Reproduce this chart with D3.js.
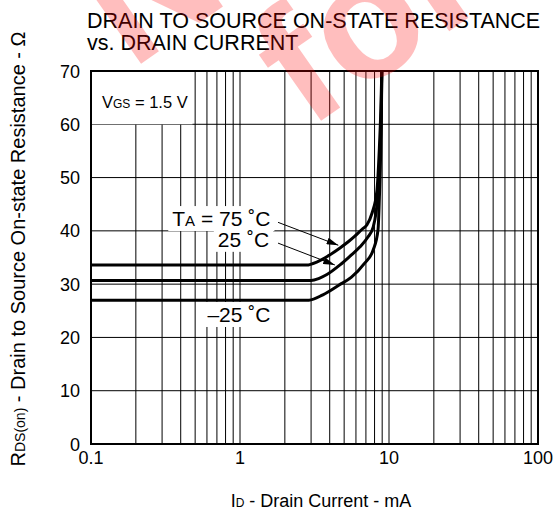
<!DOCTYPE html>
<html>
<head>
<meta charset="utf-8">
<script src="https://cdn.jsdelivr.net/npm/d3@7"></script>
<style>
  body { margin: 0; background: #fff; }
  text { font-family: Arial, "Liberation Sans", sans-serif; fill: #000; }
</style>
</head>
<body>
<div id="chart"></div>
<script>
const xTicks = [0.1, 1, 10, 100];
const yTicks = [0, 10, 20, 30, 40, 50, 60, 70];

// drain current (mA) / resistance (ohm)
const current75 = [0.1, 2.8, 3.3, 3.9, 4.69, 5.3, 5.9, 6.6, 7.1, 7.69, 8.31, 8.6, 8.82, 8.95];
const rds75 = [33.6, 33.6, 34.2, 35.3, 36.8, 37.9, 39.0, 40.3, 41.1, 43.3, 47.7, 55, 63, 70];
const current25 = [0.1, 3.0, 3.4, 3.83, 4.69, 5.5, 6.39, 7.2, 7.83, 8.44, 8.71, 8.88, 8.95];
const rds25 = [30.7, 30.7, 31.1, 31.8, 33.6, 35.3, 37.0, 38.8, 40.7, 47.1, 55, 63, 70];
const currentM25 = [0.1, 2.9, 3.6, 4.6, 5.6, 6.8, 7.83, 8.44, 8.62, 8.8, 8.9, 8.95];
const rdsM25 = [27.0, 27.0, 28.0, 29.8, 31.3, 33.8, 36.4, 40.2, 46.3, 55, 63, 70];

const width = 557, height = 512;
const x = d3.scaleLog().domain([0.1, 100]).range([91, 538]);
const y = d3.scaleLinear().domain([0, 70]).range([444, 71]);

const svg = d3.select('#chart').append('svg')
  .attr('width', width)
  .attr('height', height);

// grid
svg.append('g').selectAll('line')
  .data(x.ticks())
  .enter().append('line')
  .attr('x1', d => x(d)).attr('x2', d => x(d))
  .attr('y1', y(0)).attr('y2', y(70))
  .attr('stroke', '#000').attr('stroke-width', 1);

svg.append('g').selectAll('line')
  .data(yTicks)
  .enter().append('line')
  .attr('x1', x(0.1)).attr('x2', x(100))
  .attr('y1', d => y(d)).attr('y2', d => y(d))
  .attr('stroke', '#000').attr('stroke-width', 1);

// tick labels
svg.append('g').selectAll('text')
  .data(yTicks)
  .enter().append('text')
  .attr('x', x(0.1) - 11)
  .attr('y', d => y(d) + 6.5)
  .attr('text-anchor', 'end')
  .style('font-size', '18px')
  .text(d => d);

svg.append('g').selectAll('text')
  .data(xTicks)
  .enter().append('text')
  .attr('x', d => x(d))
  .attr('y', y(0) + 20)
  .attr('text-anchor', 'middle')
  .style('font-size', '18px')
  .text(d => d);

// annotation boxes + labels
const label = (xv, yv, anchor, parts) => {
  const t = svg.append('text')
    .attr('x', x(xv)).attr('y', y(yv))
    .attr('text-anchor', anchor)
    .style('font-size', '21px');
  parts.forEach(p => {
    t.append('tspan').style('font-size', p[1] ? '15px' : '21px').text(p[0]);
  });
  const b = t.node().getBBox();
  svg.insert('rect', () => t.node())
    .attr('x', b.x - 4).attr('y', b.y - 1)
    .attr('width', b.width + 8).attr('height', b.height + 2)
    .attr('fill', '#fff');
  return t;
};

svg.append('rect')
  .attr('x', x(0.1)).attr('y', y(70))
  .attr('width', x(0.48) - x(0.1)).attr('height', y(60) - y(70))
  .attr('fill', '#fff');
svg.append('text')
  .attr('x', x(0.1185)).attr('y', y(63))
  .style('font-size', '16.5px')
  .call(t => {
    t.append('tspan').text('V');
    t.append('tspan').style('font-size', '12px').text('GS');
    t.append('tspan').text(' = 1.5 V');
  });

label(1.6, 40.9, 'end', [['T'], ['A', true], [' = 75 \u02daC']]);
label(1.57, 37.0, 'end', [['25 \u02daC']]);
label(1.6, 22.9, 'end', [['\u201325 \u02daC']]);

// arrows
const defs = svg.append('defs');
defs.append('marker')
  .attr('id', 'arr')
  .attr('viewBox', '0 0 10 6')
  .attr('refX', 10).attr('refY', 3)
  .attr('markerWidth', 12).attr('markerHeight', 7)
  .attr('markerUnits', 'userSpaceOnUse')
  .attr('orient', 'auto')
  .append('path').attr('d', 'M0,0L10,3L0,6Z').attr('fill', '#000');

const arrows = [
  [1.8, 41.6, 4.57, 37.3],
  [1.8, 37.7, 4.33, 33.6]
];
svg.append('g').selectAll('line')
  .data(arrows)
  .enter().append('line')
  .attr('x1', d => x(d[0])).attr('y1', d => y(d[1]))
  .attr('x2', d => x(d[2])).attr('y2', d => y(d[3]))
  .attr('stroke', '#000').attr('stroke-width', 1)
  .attr('marker-end', 'url(#arr)');

// curves
const line = d3.line()
  .x(d => x(d[0]))
  .y(d => y(d[1]))
  .curve(d3.curveMonotoneX);

[[current75, rds75], [current25, rds25], [currentM25, rdsM25]].forEach(s => {
  svg.append('path')
    .datum(d3.zip(s[0], s[1]))
    .attr('d', line)
    .attr('fill', 'none')
    .attr('stroke', '#000')
    .attr('stroke-width', 3);
});

// frame
svg.append('rect')
  .attr('x', x(0.1)).attr('y', y(70))
  .attr('width', x(100) - x(0.1)).attr('height', y(0) - y(70))
  .attr('fill', 'none').attr('stroke', '#000').attr('stroke-width', 2);

// titles
svg.append('text').attr('x', 87).attr('y', 28)
  .style('font-size', '21.5px')
  .text('DRAIN TO SOURCE ON-STATE RESISTANCE');
svg.append('text').attr('x', 87).attr('y', 50)
  .style('font-size', '21.5px')
  .text('vs. DRAIN CURRENT');

svg.append('text')
  .attr('x', 321).attr('y', 507)
  .attr('text-anchor', 'middle')
  .style('font-size', '18px')
  .call(t => {
    t.append('tspan').text('I');
    t.append('tspan').style('font-size', '12px').text('D');
    t.append('tspan').text(' - Drain Current - mA');
  });

svg.append('text')
  .attr('transform', 'translate(25,249) rotate(-90)')
  .attr('text-anchor', 'middle')
  .style('font-size', '20px')
  .call(t => {
    t.append('tspan').text('R');
    t.append('tspan').style('font-size', '14px').text('DS(on)');
    t.append('tspan').text(' - Drain to Source On-state Resistance - \u03a9');
  });

// red watermark
const wm = svg.append('g')
  .attr('transform', 'translate(308,130) rotate(-35)')
  .attr('opacity', 0.25);
wm.append('text').attr('x', 0).attr('y', 0)
  .style('font-size', '170px').style('font-weight', 'bold').style('fill', '#f00')
  .text('for');
wm.append('text').attr('x', -110).attr('y', -150)
  .style('font-size', '170px').style('font-weight', 'bold').style('fill', '#f00')
  .text('Not');
</script>
</body>
</html>
